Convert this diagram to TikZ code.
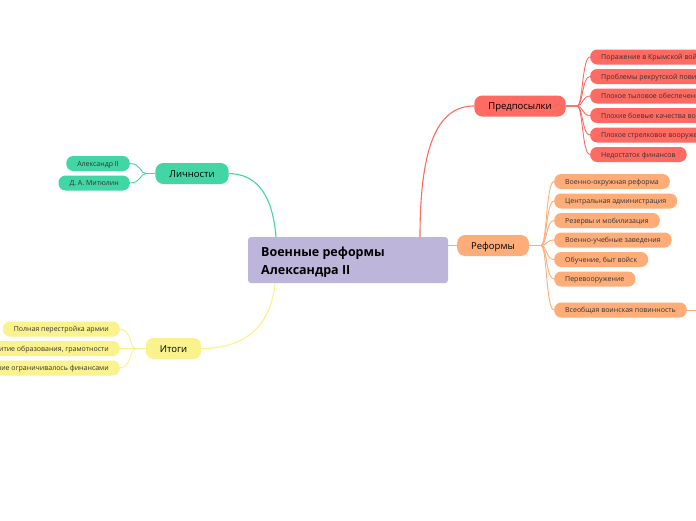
\documentclass[tikz,border=0pt]{standalone}
\usepackage{fontspec}
\setmainfont{Open Sans}
\definecolor{cred}{HTML}{FF6A62}
\definecolor{cpeach}{HTML}{FFAD78}
\definecolor{cgreen}{HTML}{41D6A4}
\definecolor{cyellow}{HTML}{FAF28C}
\definecolor{clav}{HTML}{BDB6DA}
\definecolor{ctxt}{HTML}{333333}
\tikzset{
  leaf/.style={rounded corners=7pt, minimum height=15pt, inner xsep=11pt, inner ysep=0pt,
    font=\fontsize{7}{8}\selectfont, text=ctxt, text height=5.8pt, text depth=0.8pt},
  branch/.style={rounded corners=8pt, minimum height=21pt, inner xsep=14pt, inner ysep=0pt,
    font=\fontsize{9.5}{11}\selectfont, text=black, text height=8pt, text depth=1pt},
  conn/.style={line width=1.1pt},
  sub/.style={line width=0.9pt},
}
\begin{document}
\begin{tikzpicture}[x=1pt,y=-1pt]
\useasboundingbox (0,0) rectangle (696,520);
\clip (0,0) rectangle (696,520);
\fill[white] (0,0) rectangle (696,520);

% central
\node[fill=clav, rounded corners=3pt, minimum width=200pt, minimum height=46pt] (c) at (348,260) {};
\node[anchor=west, align=left, inner sep=0pt, font=\fontsize{12.5}{18}\selectfont\bfseries] (ct) at (261,262)
  {Военные реформы\\Александра II};

% branches
\node[branch, fill=cred, minimum width=90pt] (pre) at (520,106) {Предпосылки};
\node[branch, fill=cpeach, minimum width=70pt] (ref) at (493,245.5) {Реформы};
\node[branch, fill=cgreen, minimum width=72pt] (lic) at (192,173.5) {Личности};
\node[branch, fill=cyellow, minimum width=55pt] (ito) at (173.5,348.5) {Итоги};

% central connectors
\draw[conn, cred] (420,237) .. controls (420,140) and (440,106) .. (pre.west);
\draw[conn, cpeach] (448,245.5) -- (ref.west);
\draw[conn, cgreen] (276,237) .. controls (272,188) and (252,174) .. (lic.east);
\draw[conn, cyellow] (275,283) .. controls (270,335) and (235,348.5) .. (ito.east);

% Предпосылки children
\foreach \n/\y/\t in {p1/57/Поражение в Крымской войне, p2/76.5/Проблемы рекрутской повинности,
  p3/96/Плохое тыловое обеспечение, p4/115.5/Плохие боевые качества войск,
  p5/135/Плохое стрелковое вооружение, p6/154.5/Недостаток финансов}{
  \node[leaf, fill=cred, anchor=west] (\n) at (590,\y) {\t};
  \draw[sub, cred] (pre.east) -- (577,106) .. controls (583,106) and (582,\y) .. (\n.west);
}

% Реформы children
\foreach \n/\y/\t in {r1/181.5/Военно-окружная реформа, r2/201/Центральная администрация,
  r3/220.5/Резервы и мобилизация, r4/240/Военно-учебные заведения,
  r5/259.5/{Обучение, быт войск}, r6/279/Перевооружение, r7/310/Всеобщая воинская повинность}{
  \node[leaf, fill=cpeach, anchor=west] (\n) at (554,\y) {\t};
  \draw[sub, cpeach] (ref.east) -- (541,245.5) .. controls (547,245.5) and (546,\y) .. (\n.west);
}
\coordinate (r7x) at (700,310);
\draw[sub, cpeach] (r7.east) -- (r7x);

% Личности children
\foreach \n/\y/\t in {l1/163.5/Александр II, l2/183/{Д. А. Митюлин}}{
  \node[leaf, fill=cgreen, anchor=east] (\n) at (130,\y) {\t};
  \draw[sub, cgreen] (lic.west) -- (146,173.5) .. controls (140,173.5) and (141,\y) .. (\n.east);
}

% Итоги children
\foreach \n/\y/\t in {i1/329/Полная перестройка армии, i2/348.5/{Развитие образования, грамотности},
  i3/368/Перевооружение ограничивалось финансами}{
  \node[leaf, fill=cyellow, anchor=east] (\n) at (120,\y) {\t};
  \draw[sub, cyellow] (ito.west) -- (136,348.5) .. controls (130,348.5) and (131,\y) .. (\n.east);
}
\end{tikzpicture}
\end{document}
